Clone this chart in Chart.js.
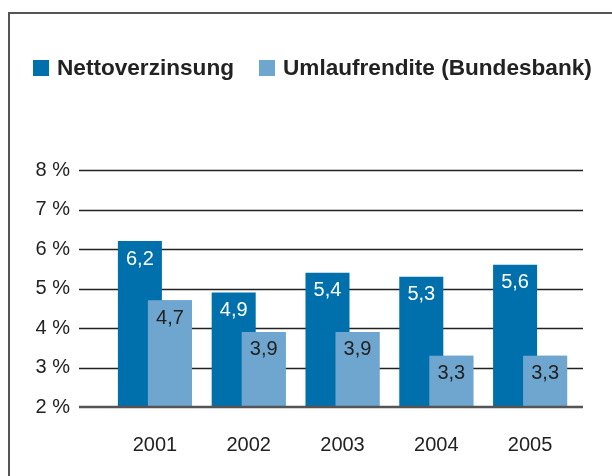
<!DOCTYPE html>
<html>
<head>
<meta charset="utf-8">
<script src="https://cdn.jsdelivr.net/npm/chart.js@4"></script>
<style>
  body { margin: 0; background: #fff; }
  #frame { position: absolute; left: 8px; top: 12px; width: 700px; height: 600px;
           border-left: 2px solid #555; border-top: 2px solid #555; }
  #wrap { position: absolute; left: 0; top: 0; width: 612px; height: 476px; }
</style>
</head>
<body>
<div id="frame"></div>
<div id="wrap"><canvas id="myChart" width="612" height="476"></canvas></div>
<script>
const years = ['2001', '2002', '2003', '2004', '2005'];
const netto = [6.2, 4.9, 5.4, 5.3, 5.6];
const umlauf = [4.7, 3.9, 3.9, 3.3, 3.3];
const yTicks = [2, 3, 4, 5, 6, 7, 8];

const fontFamily = '"Liberation Sans", Arial, Helvetica, sans-serif';
const darkBlue = 'rgb(0,112,173)';
const lightBlue = 'rgb(111,166,207)';

// grid lines reach further left than the bars, legend drawn by hand
const extras = {
  id: 'extras',
  beforeDatasetsDraw(chart) {
    const ctx = chart.ctx;
    const y = chart.scales.y;
    ctx.save();
    ctx.strokeStyle = '#222';
    ctx.lineWidth = 1.3;
    yTicks.forEach(v => {
      if (v === 2) return;
      const py = Math.round(y.getPixelForValue(v)) + 0.5;
      ctx.beginPath();
      ctx.moveTo(79, py);
      ctx.lineTo(583, py);
      ctx.stroke();
    });
    ctx.restore();
  },
  afterDatasetsDraw(chart) {
    const ctx = chart.ctx;
    const y = chart.scales.y;
    const a = chart.chartArea;
    // light bars sit on top of the dark ones
    ctx.save();
    ctx.beginPath();
    ctx.rect(a.left, a.top, a.right - a.left, a.bottom - a.top);
    ctx.clip();
    chart.getDatasetMeta(1).controller.draw();
    ctx.restore();

    ctx.save();
    const py = y.getPixelForValue(2);
    ctx.strokeStyle = '#555';
    ctx.lineWidth = 2.5;
    ctx.beginPath();
    ctx.moveTo(79, py);
    ctx.lineTo(583, py);
    ctx.stroke();

    ctx.font = '20px ' + fontFamily;
    ctx.textAlign = 'center';
    ctx.textBaseline = 'middle';
    chart.data.datasets.forEach((ds, i) => {
      const meta = chart.getDatasetMeta(i);
      ctx.fillStyle = i === 0 ? '#fff' : '#222';
      meta.data.forEach((bar, j) => {
        const txt = ds.data[j].toFixed(1).replace('.', ',');
        ctx.fillText(txt, bar.x, bar.y + 18);
      });
    });

    // legend
    let lx = 33;
    ctx.font = 'bold 22.6px ' + fontFamily;
    ctx.textAlign = 'left';
    chart.data.datasets.forEach(ds => {
      ctx.fillStyle = ds.backgroundColor;
      ctx.fillRect(lx, 60, 16, 16);
      ctx.fillStyle = '#222';
      ctx.fillText(ds.label, lx + 24, 69);
      lx += 24 + ctx.measureText(ds.label).width + 25;
    });
    ctx.restore();
  }
};

const data = {
  labels: years,
  datasets: [{
    label: 'Nettoverzinsung',
    backgroundColor: darkBlue,
    data: netto,
  }, {
    label: 'Umlaufrendite (Bundesbank)',
    backgroundColor: lightBlue,
    data: umlauf,
  }]
};

const config = {
  type: 'bar',
  data: data,
  options: {
    responsive: false,
    animation: false,
    categoryPercentage: 0.64,
    barPercentage: 1.467,
    layout: { padding: { top: 170, right: 35, bottom: 0, left: 0 } },
    plugins: {
      tooltip: { enabled: false },
      legend: { display: false }
    },
    scales: {
      x: {
        grid: { display: false },
        border: { display: false },
        ticks: {
          color: '#222',
          padding: 18,
          font: { family: fontFamily, size: 20 }
        },
        afterFit(scale) { scale.height = 69; }
      },
      y: {
        min: 2,
        max: 8,
        grid: { display: false },
        border: { display: false },
        afterBuildTicks(scale) { scale.ticks = yTicks.map(v => ({ value: v })); },
        ticks: {
          color: '#222',
          padding: 30,
          font: { family: fontFamily, size: 20 },
          callback: v => v + ' %'
        },
        afterFit(scale) { scale.width = 108; }
      }
    }
  },
  plugins: [extras]
};

const myChart = new Chart(document.getElementById('myChart'), config);
</script>
</body>
</html>
